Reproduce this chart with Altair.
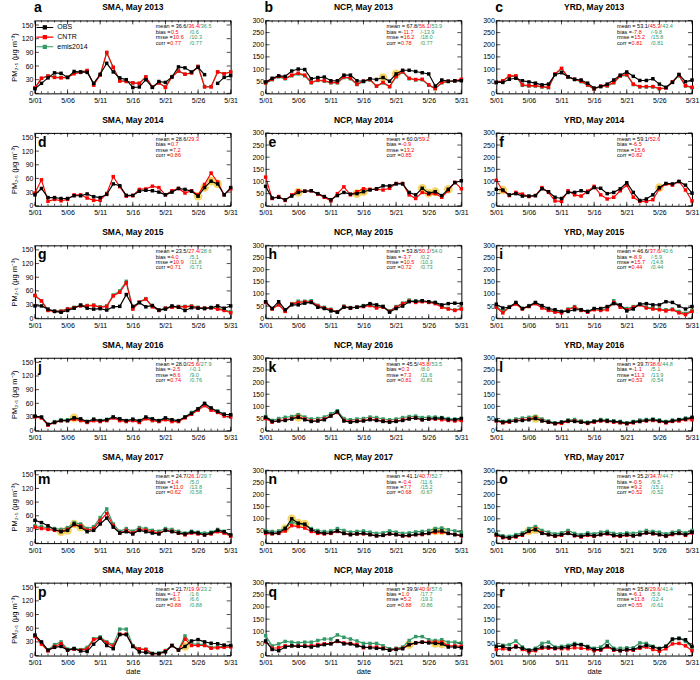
import altair as alt
import pandas as pd

DAYS = list(range(1, 32))
X_TICKS = [1, 6, 11, 16, 21, 26, 31]
SERIES = ["OBS", "CNTR", "emis2014"]
BLACK, RED, GREEN = "#000000", "#ff0000", "#339966"

# ---------------- data (PM2.5, ug m-3), day 1..31 of May ----------------
sma13_obs = [10, 22, 34, 45, 44, 35, 48, 47, 46, 22, 42, 66, 47, 34, 30, 13, 14, 30, 13, 26, 24, 36, 58, 56, 47, 57, 41, None, 22, 35, 39]
sma13_cntr = [12, 33, 38, 35, 34, 35, 43, 46, 50, 18, 40, 90, 57, 27, 26, 23, 22, 36, 14, 23, 13, 36, 49, 42, 45, 59, 14, 14, 47, 43, 47]
sma13_emis = [12, 33, 38, 36, 35, 35, 44, 47, 50, 19, 40, 89, 57, 28, 27, 23, 22, 36, 14, 23, 14, 37, 49, 42, 45, 59, 15, 15, 47, 43, 47]

ncp13_obs = [47, 62, 72, 70, 92, 100, 98, 60, 65, 67, 52, 52, 75, 75, 52, 50, 60, 57, 65, 50, 80, 95, 95, 90, 85, 80, 30, 55, 50, 52, 52]
ncp13_cntr = [43, 58, 70, 62, 75, 83, 75, 45, 55, 52, 45, 45, 68, 63, 38, 50, 57, 30, 45, 28, 70, 90, 62, 57, 58, 35, 20, 45, 50, 52, 58]
ncp13_emis = [42, 56, 68, 60, 72, 80, 72, 43, 53, 50, 43, 43, 65, 60, 36, 48, 55, 29, 43, 27, 68, 87, 60, 55, 56, 33, 19, 43, 48, 50, 56]

yrd13_obs = [45, 45, 58, 62, 52, 47, 42, 35, 38, 77, 85, 68, 58, 55, 42, 22, 28, 38, 55, 75, 88, 70, 53, 53, 60, 38, 25, 45, 78, 48, 55]
yrd13_cntr = [45, 52, 72, 72, 35, 32, 32, 28, 25, 80, 103, 68, 58, 50, 35, 18, 30, 32, 45, 72, 78, 38, 28, 28, 28, 20, 22, 48, 75, 32, 25]
yrd13_emis = [43, 50, 70, 70, 33, 30, 30, 26, 23, 78, 100, 66, 56, 48, 33, 17, 28, 30, 43, 70, 75, 36, 26, 26, 26, 19, 21, 46, 72, 30, 23]

sma14_obs = [24, 38, 18, 18, 16, 16, 22, 22, 26, 20, 18, 25, 48, 44, 23, 23, 32, 34, 33, 30, 24, 30, 38, 36, 32, 21, 40, 54, 48, 24, 40]
sma14_cntr = [28, 57, 10, 14, 11, 14, 24, 24, 17, 12, 12, 27, 64, 42, 21, 22, 36, 37, 43, 40, 24, 33, 38, 28, 33, 24, 47, 72, 52, 24, 37]

ncp14_obs = [80, 32, 35, 25, 40, 55, 60, 62, 50, 38, 25, 42, 55, 48, 50, 58, 65, 70, 82, 82, 90, 90, 55, 45, 72, 52, 58, 42, 68, 95, 103]
ncp14_cntr = [118, 30, 38, 22, 45, 62, 60, 62, 48, 35, 20, 50, 78, 45, 58, 70, 68, 68, 65, 72, 92, 92, 45, 30, 55, 48, 50, 35, 62, 97, 70]

yrd14_obs = [68, 65, 45, 50, 40, 40, 42, 70, 58, 35, 30, 55, 55, 62, 55, 75, 72, 50, 55, 70, 95, 55, 22, 28, 45, 75, 92, 90, 100, 85, 52]
yrd14_cntr = [105, 62, 42, 55, 48, 38, 42, 75, 55, 20, 18, 62, 45, 40, 60, 80, 45, 28, 35, 62, 85, 35, 18, 18, 25, 70, 90, 85, 100, 65, 20]

sma15_obs = [27, 27, 20, 15, 13, 17, 22, 29, 22, 20, 21, 18, 25, 26, 52, 26, 34, 25, 28, 18, 20, 27, 24, 17, 23, 22, 21, 23, 27, 22, 27]
sma15_cntr = [50, 38, 17, 15, 15, 20, 23, 27, 27, 28, 24, 26, 49, 57, 78, 20, 35, 42, 25, 17, 22, 24, 25, 25, 26, 23, 22, 23, 20, 17, 12]
sma15_emis = [50, 38, 18, 16, 16, 21, 24, 28, 28, 29, 25, 27, 51, 60, 81, 22, 36, 43, 26, 18, 23, 25, 26, 26, 27, 24, 23, 24, 22, 19, 14]

ncp15_obs = [68, 40, 68, 35, 55, 55, 62, 65, 45, 40, 30, 25, 45, 42, 45, 50, 60, 55, 48, 25, 40, 50, 68, 70, 72, 68, 65, 55, 60, 62, 60]
ncp15_cntr = [65, 38, 55, 28, 58, 65, 67, 68, 50, 42, 35, 25, 48, 42, 45, 48, 52, 42, 45, 28, 45, 60, 70, 65, 68, 65, 60, 45, 38, 32, 38]
ncp15_emis = [66, 40, 57, 30, 60, 70, 70, 72, 53, 45, 37, 27, 50, 44, 47, 52, 56, 46, 49, 30, 48, 62, 75, 70, 72, 68, 64, 48, 40, 34, 40]

yrd15_obs = [58, 42, 45, 65, 40, 50, 65, 52, 40, 35, 28, 28, 35, 35, 28, 40, 40, 48, 60, 55, 30, 38, 58, 60, 55, 55, 68, 65, 50, 38, 48]
yrd15_cntr = [45, 22, 45, 58, 38, 48, 60, 42, 32, 25, 22, 35, 45, 32, 25, 35, 32, 35, 65, 45, 35, 45, 55, 42, 38, 35, 30, 35, 22, 15, 28]
yrd15_emis = [50, 28, 48, 62, 40, 52, 63, 45, 35, 28, 25, 38, 48, 35, 28, 38, 35, 40, 72, 50, 40, 48, 58, 45, 42, 38, 35, 38, 28, 20, 32]

sma16_obs = [32, 30, 14, 18, 22, 22, 28, 26, 20, 25, 22, 24, 30, 26, 22, 25, 22, 30, 26, 22, 28, 24, 22, 30, 38, 48, 60, 50, 42, 36, 35]
sma16_cntr = [30, 28, 12, 18, 22, 22, 25, 22, 18, 22, 20, 22, 28, 22, 20, 22, 18, 26, 22, 20, 24, 20, 20, 28, 36, 45, 55, 45, 40, 32, 30]
sma16_emis = [31, 29, 13, 20, 24, 24, 28, 24, 20, 25, 22, 25, 30, 25, 22, 25, 20, 28, 24, 22, 27, 22, 22, 30, 40, 48, 58, 48, 43, 36, 34]

ncp16_obs = [55, 38, 40, 42, 48, 55, 45, 38, 40, 45, 60, 78, 40, 35, 38, 40, 45, 42, 38, 35, 38, 42, 48, 52, 45, 48, 50, 52, 45, 45, 50]
ncp16_cntr = [50, 35, 42, 45, 50, 58, 48, 40, 42, 48, 62, 75, 42, 38, 40, 42, 48, 45, 40, 38, 40, 45, 50, 52, 45, 48, 48, 45, 42, 40, 42]
ncp16_emis = [58, 42, 50, 55, 58, 66, 56, 48, 50, 56, 70, 82, 50, 45, 48, 50, 56, 54, 48, 45, 48, 54, 58, 60, 54, 56, 56, 54, 50, 48, 50]

yrd16_obs = [42, 35, 38, 40, 42, 45, 50, 40, 35, 30, 35, 40, 38, 35, 32, 38, 42, 40, 38, 35, 30, 35, 38, 42, 45, 40, 35, 40, 45, 48, 55]
yrd16_cntr = [40, 32, 35, 42, 45, 48, 52, 42, 35, 28, 30, 38, 40, 35, 30, 35, 40, 38, 35, 32, 28, 32, 38, 40, 42, 38, 32, 38, 40, 45, 45]
yrd16_emis = [46, 38, 42, 48, 52, 55, 58, 48, 40, 32, 35, 44, 46, 40, 35, 40, 46, 44, 40, 38, 32, 38, 44, 46, 48, 44, 38, 44, 46, 52, 52]

sma17_obs = [50, 45, 38, 30, 25, 28, 42, 35, 25, 28, 42, 55, 35, 22, 25, 20, 28, 25, 22, 20, 28, 25, 22, 20, 24, 22, 18, 22, 28, 25, 18]
sma17_cntr = [35, 32, 30, 28, 26, 30, 40, 38, 28, 32, 50, 65, 38, 22, 28, 22, 30, 28, 25, 22, 28, 26, 22, 18, 22, 20, 18, 20, 25, 22, 15]
sma17_emis = [38, 36, 34, 32, 30, 34, 45, 42, 32, 36, 56, 75, 42, 26, 32, 26, 34, 32, 28, 26, 32, 30, 26, 22, 26, 24, 22, 24, 30, 26, 18]

ncp17_obs = [45, 40, 42, 60, 100, 82, 78, 55, 45, 40, 42, 50, 40, 35, 38, 40, 35, 30, 32, 38, 35, 30, 32, 35, 38, 40, 50, 50, 40, 35, 32]
ncp17_cntr = [40, 38, 40, 50, 72, 68, 62, 48, 40, 38, 40, 48, 40, 35, 38, 38, 35, 30, 32, 38, 35, 30, 30, 35, 35, 40, 45, 45, 40, 35, 30]
ncp17_emis = [52, 48, 50, 62, 85, 80, 75, 60, 52, 48, 50, 60, 52, 45, 48, 50, 45, 40, 42, 50, 45, 40, 42, 46, 48, 52, 60, 62, 55, 50, 45]

yrd17_obs = [35, 25, 22, 28, 35, 50, 55, 40, 35, 30, 35, 40, 32, 28, 35, 30, 35, 40, 32, 30, 35, 30, 35, 42, 40, 35, 30, 38, 40, 35, 45]
yrd17_cntr = [32, 22, 20, 25, 32, 48, 58, 42, 35, 28, 32, 42, 30, 25, 32, 28, 35, 38, 30, 28, 32, 30, 35, 42, 38, 35, 28, 35, 40, 32, 42]
yrd17_emis = [40, 30, 28, 35, 42, 60, 68, 52, 45, 38, 42, 52, 40, 35, 42, 38, 45, 48, 40, 38, 42, 40, 45, 52, 48, 45, 38, 45, 50, 42, 52]

sma18_obs = [45, 30, 12, 18, 20, 12, 15, 10, 9, 25, 38, 22, 15, 46, 46, 20, 8, 7, 4, 4, 8, 22, 12, 20, 32, 35, 30, 27, 26, 23, 22]
sma18_cntr = [42, 25, 10, 20, 26, 12, 14, 12, 14, 35, 38, 28, 20, 47, 47, 20, 14, 13, 4, 4, 10, 22, 12, 36, 22, 22, 22, 16, 17, 18, 19]
sma18_emis = [43, 28, 12, 24, 30, 14, 16, 13, 18, 37, 41, 30, 24, 58, 58, 22, 15, 14, 5, 6, 11, 22, 13, 43, 25, 25, 24, 18, 19, 20, 21]

ncp18_obs = [60, 25, 20, 35, 40, 38, 38, 35, 40, 45, 48, 60, 48, 48, 40, 35, 32, 30, 28, 22, 25, 28, 45, 52, 55, 52, 50, 48, 35, 35, 32]
ncp18_cntr = [57, 30, 32, 40, 40, 40, 40, 40, 45, 48, 50, 58, 52, 50, 45, 32, 35, 35, 30, 22, 27, 30, 45, 52, 55, 55, 55, 55, 40, 40, 38]
ncp18_emis = [82, 40, 48, 58, 55, 52, 55, 55, 62, 68, 68, 85, 75, 68, 60, 50, 50, 50, 40, 28, 30, 35, 62, 78, 78, 65, 62, 65, 55, 55, 52]

yrd18_obs = [38, 38, 28, 35, 30, 22, 25, 35, 35, 30, 32, 35, 45, 45, 35, 25, 25, 40, 25, 20, 25, 25, 35, 42, 35, 28, 38, 68, 70, 65, 38]
yrd18_cntr = [25, 28, 25, 40, 25, 15, 20, 30, 30, 28, 28, 28, 32, 30, 28, 20, 22, 35, 22, 20, 22, 22, 30, 35, 25, 18, 28, 48, 50, 40, 20]
yrd18_emis = [38, 42, 45, 60, 35, 22, 30, 50, 55, 35, 38, 42, 50, 45, 38, 30, 35, 58, 30, 30, 32, 32, 52, 50, 38, 30, 38, 65, 72, 58, 32]

# letter, region, year, obs, cntr, emis2014, highlighted days, mean, bias, rmse, corr
PANELS = [
    ("a", "SMA", 2013, sma13_obs, sma13_cntr, sma13_emis, [], ["36.6", "36.4", "36.5"], ["0.5", "0.6"], ["10.6", "10.3"], ["0.77", "0.77"]),
    ("b", "NCP", 2013, ncp13_obs, ncp13_cntr, ncp13_emis, [19, 21], ["67.8", "56.1", "53.9"], ["-11.7", "-13.9"], ["16.2", "18.0"], ["0.78", "0.77"]),
    ("c", "YRD", 2013, yrd13_obs, yrd13_cntr, yrd13_emis, [], ["53.1", "45.3", "43.4"], ["-7.8", "-9.8"], ["15.2", "15.8"], ["0.81", "0.81"]),
    ("d", "SMA", 2014, sma14_obs, sma14_cntr, None, [26, 27, 28, 29], ["28.6", "29.3"], ["0.7"], ["7.2"], ["0.86"]),
    ("e", "NCP", 2014, ncp14_obs, ncp14_cntr, None, [6, 15, 16, 25, 26, 27, 29], ["60.0", "59.2"], ["-0.9"], ["13.2"], ["0.85"]),
    ("f", "YRD", 2014, yrd14_obs, yrd14_cntr, None, [2, 26], ["59.1", "52.6"], ["-6.5"], ["15.6"], ["0.82"]),
    ("g", "SMA", 2015, sma15_obs, sma15_cntr, sma15_emis, [], ["23.5", "27.4", "28.6"], ["4.0", "5.1"], ["10.9", "11.8"], ["0.71", "0.71"]),
    ("h", "NCP", 2015, ncp15_obs, ncp15_cntr, ncp15_emis, [], ["53.8", "50.1", "54.0"], ["-3.7", "0.2"], ["10.5", "10.3"], ["0.72", "0.73"]),
    ("i", "YRD", 2015, yrd15_obs, yrd15_cntr, yrd15_emis, [], ["46.6", "37.6", "40.6"], ["-8.9", "-5.9"], ["15.7", "14.8"], ["0.44", "0.44"]),
    ("j", "SMA", 2016, sma16_obs, sma16_cntr, sma16_emis, [7], ["28.0", "25.6", "27.9"], ["-2.5", "-0.1"], ["8.6", "9.0"], ["0.74", "0.76"]),
    ("k", "NCP", 2016, ncp16_obs, ncp16_cntr, ncp16_emis, [6], ["45.5", "45.8", "53.5"], ["0.3", "8.0"], ["7.3", "11.6"], ["0.81", "0.81"]),
    ("l", "YRD", 2016, yrd16_obs, yrd16_cntr, yrd16_emis, [7], ["39.7", "38.6", "44.8"], ["-1.1", "5.1"], ["11.3", "13.9"], ["0.53", "0.54"]),
    ("m", "SMA", 2017, sma17_obs, sma17_cntr, sma17_emis, [5, 6, 7, 8], ["24.7", "26.1", "29.7"], ["1.4", "5.0"], ["11.0", "13.8"], ["0.62", "0.58"]),
    ("n", "NCP", 2017, ncp17_obs, ncp17_cntr, ncp17_emis, [4, 5, 6, 7, 27, 28], ["41.1", "40.7", "52.7"], ["-0.4", "11.6"], ["7.7", "15.2"], ["0.68", "0.67"]),
    ("o", "YRD", 2017, yrd17_obs, yrd17_cntr, yrd17_emis, [6, 7], ["35.2", "34.7", "44.7"], ["-0.5", "9.5"], ["9.2", "15.1"], ["0.52", "0.52"]),
    ("p", "SMA", 2018, sma18_obs, sma18_cntr, sma18_emis, [24], ["21.7", "19.9", "23.2"], ["-1.7", "1.6"], ["6.1", "6.6"], ["0.88", "0.88"]),
    ("q", "NCP", 2018, ncp18_obs, ncp18_cntr, ncp18_emis, [23, 27, 28], ["39.9", "40.9", "57.6"], ["1.0", "17.7"], ["5.2", "19.3"], ["0.88", "0.86"]),
    ("r", "YRD", 2018, yrd18_obs, yrd18_cntr, yrd18_emis, [], ["35.8", "29.6", "41.4"], ["-6.1", "5.6"], ["11.8", "12.4"], ["0.55", "0.61"]),
]

# ---------------- layout / style ----------------
PW, PH = 196, 73
FONT = "Liberation Sans"
FS = 5.5
ANN_X0, ANN_Y0, ANN_DY = 121, 6, 5.4
CW = {" ": 278, ".": 278, "/": 278, "=": 584, "-": 333, "m": 833, "e": 556, "a": 556,
      "n": 556, "b": 556, "i": 222, "s": 500, "r": 333, "c": 500, "o": 556}


def text_w(s, fs=FS):
    return sum(CW.get(ch, 556) for ch in s) * fs / 1000.0


def ann_rows(mean, bias, rmse, corr):
    three = len(mean) == 3
    lines = [("mean = " + mean[0] + "/", mean[1] + ("/" if three else ""), mean[2] if three else "")]
    for lab, v in (("bias =", bias), ("rmse =", rmse), ("corr =", corr)):
        lines.append((lab, v[0], ("/" + v[1]) if three else ""))
    rows = []
    for k, (b, r, g) in enumerate(lines):
        y = ANN_Y0 + ANN_DY * k
        x = ANN_X0
        rows.append(dict(ax=x, ay=y, t=b, c=BLACK))
        xr = x + text_w(b) + 0.3
        rows.append(dict(ax=xr, ay=y, t=r, c=RED))
        if g:
            xg = xr + text_w(r) + 0.3
            if k > 0:
                xg = max(xg + 1.5, x + 34)
            rows.append(dict(ax=xg, ay=y, t=g, c=GREEN))
    return rows


LEG_PATH = "M-2.4,0L2.4,0M-0.45,-0.45L0.45,-0.45L0.45,0.45L-0.45,0.45Z"


def make_panel(i, spec):
    letter, region, year, obs, cntr, emis, hl, mean, bias, rmse, corr = spec
    row, col = divmod(i, 3)
    sma = region == "SMA"
    ymax = 160 if sma else 300
    yvals = [0, 30, 60, 90, 120, 150] if sma else [0, 50, 100, 150, 200, 250, 300]

    recs = []
    for name, vals in (("emis2014", emis), ("CNTR", cntr), ("OBS", obs)):
        if vals is None:
            continue
        for d, v in zip(DAYS, vals):
            recs.append({"day": d, "pm": v, "series": name})
    df = pd.DataFrame(recs)

    xenc = alt.X("day:Q", scale=alt.Scale(domain=[1, 31], nice=False, zero=False),
                 axis=alt.Axis(values=X_TICKS,
                               labelExpr="'5/' + (datum.value < 10 ? '0' : '') + datum.value",
                               title="date" if row == 5 else None,
                               labelPadding=3, titlePadding=2, labelFlush=False, labelOverlap=False))
    yenc = alt.Y("pm:Q", scale=alt.Scale(domain=[0, ymax], nice=False),
                 axis=alt.Axis(values=yvals, title="PM₂.₅ (μg m⁻³)" if col == 0 else None,
                               labelPadding=2, titlePadding=3, labelOverlap=False))
    if i == 0:
        legend = alt.Legend(title=None, orient="none", legendX=5.4, legendY=2.5,
                            symbolType=LEG_PATH, symbolSize=49, symbolStrokeWidth=1.1,
                            labelFontSize=7, labelOffset=8, rowPadding=0.7, padding=0,
                            labelFont=FONT)
    else:
        legend = None
    cenc = alt.Color("series:N", scale=alt.Scale(domain=SERIES, range=[BLACK, RED, GREEN]), legend=legend)

    layers = []
    if hl:
        hdf = pd.DataFrame({"day": hl, "pm": [obs[d - 1] for d in hl]})
        layers.append(alt.Chart(hdf).mark_circle(size=75, color="#f2c832", opacity=0.75)
                      .encode(x=xenc, y=yenc))
    for name in ("emis2014", "CNTR", "OBS"):
        if name == "emis2014" and emis is None:
            continue
        base = alt.Chart(df).transform_filter(alt.datum.series == name)
        layers.append(base.mark_line(strokeWidth=1.15, invalid="break-paths-filter-domains")
                      .encode(x=xenc, y=yenc, color=cenc))
        layers.append(base.mark_point(shape="square", filled=True, size=12, opacity=1)
                      .encode(x=xenc, y=yenc, color=cenc))

    # inward ticks (NCL style)
    xt = pd.DataFrame({"day": X_TICKS})
    xm = pd.DataFrame({"day": DAYS})
    yt = pd.DataFrame({"pm": yvals})
    tk = dict(color="black", strokeWidth=0.7)
    layers += [
        alt.Chart(xt).mark_rule(**tk).encode(x=xenc, y=alt.value(PH), y2=alt.value(PH - 4)),
        alt.Chart(xt).mark_rule(**tk).encode(x=xenc, y=alt.value(0), y2=alt.value(4)),
        alt.Chart(xm).mark_rule(**tk).encode(x=xenc, y=alt.value(PH), y2=alt.value(PH - 2)),
        alt.Chart(xm).mark_rule(**tk).encode(x=xenc, y=alt.value(0), y2=alt.value(2)),
        alt.Chart(yt).mark_rule(**tk).encode(y=yenc, x=alt.value(0), x2=alt.value(4)),
        alt.Chart(yt).mark_rule(**tk).encode(y=yenc, x=alt.value(PW), x2=alt.value(PW - 4)),
    ]

    # statistics annotation
    adf = pd.DataFrame(ann_rows(mean, bias, rmse, corr))
    layers.append(alt.Chart(adf).mark_text(align="left", baseline="middle", fontSize=FS, font=FONT)
                  .encode(x=alt.X("ax:Q", scale=None), y=alt.Y("ay:Q", scale=None),
                          text="t:N", fill=alt.Fill("c:N", scale=None)))

    # panel title and letter
    tdf = pd.DataFrame({"t": [f"{region}, May {year}"]})
    layers.append(alt.Chart(tdf).mark_text(align="center", baseline="alphabetic", fontSize=8.5,
                                           fontWeight="bold", font=FONT)
                  .encode(x=alt.value(PW / 2), y=alt.value(-10), text="t:N"))
    ldf = pd.DataFrame({"t": [letter]})
    if row == 0:
        lx, ly = -1, -12
    else:
        lx, ly = 3, 10
    layers.append(alt.Chart(ldf).mark_text(align="left", baseline="middle", fontSize=14,
                                           fontWeight="bold", font=FONT)
                  .encode(x=alt.value(lx), y=alt.value(ly), text="t:N"))

    return alt.layer(*layers).properties(width=PW, height=PH)


panels = [make_panel(i, p) for i, p in enumerate(PANELS)]

chart = (alt.concat(*panels, columns=3, spacing={"row": 39.6, "column": 35}, bounds="flush")
         .resolve_scale(color="independent").resolve_legend(color="independent")
         .properties(padding={"left": 9, "top": 0, "right": 0, "bottom": 0})
         .configure(font=FONT)
         .configure_view(stroke="black", strokeWidth=1)
         .configure_axis(ticks=False, domain=False, grid=False, labelFontSize=7, labelColor="black",
                         titleFontSize=7.5, titleFontWeight="normal", titleColor="black", labelFont=FONT,
                         titleFont=FONT, labelOverlap=False))

chart.save("out.html", embed_options={"renderer": "svg", "actions": False})
